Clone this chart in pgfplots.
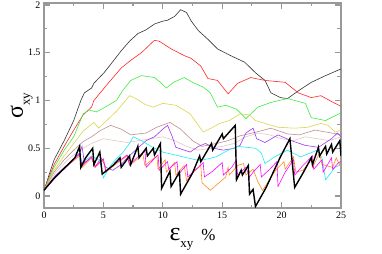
\documentclass[border=0pt]{standalone}
\usepackage{fontspec}
\setmainfont{Liberation Serif}
\usepackage{pgfplots}
\pgfplotsset{compat=1.18}
\definecolor{cdark}{rgb}{0.2,0.2,0.2}
\definecolor{cred}{rgb}{1,0.15,0.15}
\definecolor{cgreen}{rgb}{0.25,0.92,0.25}
\definecolor{cyellow}{rgb}{0.85,0.84,0.3}
\definecolor{ctan}{rgb}{0.74,0.56,0.56}
\definecolor{cpink}{rgb}{0.88,0.78,0.78}
\definecolor{cpurple}{rgb}{0.62,0.22,0.95}
\definecolor{ccyan}{rgb}{0.1,0.92,0.95}
\definecolor{corange}{rgb}{1,0.55,0.1}
\definecolor{cmag}{rgb}{1,0,1}
\definecolor{cframe}{rgb}{0.6,0.6,0.6}
\begin{document}
\begin{tikzpicture}
\useasboundingbox (-44bp,-46bp) rectangle (338bp,208bp);
\begin{axis}[
  scale only axis, width=297bp, height=205bp,
  xmin=0, xmax=25, ymin=-0.125, ymax=2.02,
  xtick={0,5,10,15,20,25}, ytick={0,0.5,1,1.5,2},
  minor x tick num=1, minor y tick num=1,
  tick align=inside, major tick length=6bp, minor tick length=3.5bp,
  axis line style={draw=cframe, line width=1.2bp},
  every tick/.append style={draw=cframe, line width=1.2bp},
  every minor tick/.append style={draw=cframe, line width=1.2bp},
  tick label style={font=\fontsize{10}{12}\selectfont},
  /pgf/number format/assume math mode=true,
  every axis x label/.style={at={([yshift=-32bp]axis description cs:0.5,0)}, anchor=base},
  every axis y label/.style={at={([xshift=-21bp]axis description cs:0,0.5)}, anchor=base, rotate=90, inner sep=0pt},
  xlabel={{\fontsize{26}{26}\selectfont ε}{\fontsize{13}{13}\selectfont\raisebox{-7bp}{xy}}\hspace{8bp}{\fontsize{17}{17}\selectfont\%}},
  ylabel={{\fontsize{24}{24}\selectfont σ}{\fontsize{13}{13}\selectfont\raisebox{-7bp}{xy}}},
  every axis plot/.append style={line width=0.6bp, mark=none},
]
% dark thin
\addplot[cdark] coordinates {(0,0.06)(0.85,0.38)(1.7,0.58)(2.5,0.79)(3.1,1.0)(3.4,1.08)(4.0,1.13)(4.2,1.18)(5.05,1.29)(5.5,1.36)(6.5,1.52)(7.2,1.62)(7.9,1.70)(8.6,1.74)(9.3,1.80)(10.0,1.83)(10.4,1.84)(11.0,1.88)(11.5,1.95)(12.0,1.92)(12.4,1.83)(13.0,1.73)(13.8,1.64)(14.6,1.54)(15.7,1.47)(16.9,1.40)(17.8,1.29)(18.6,1.21)(19.1,1.08)(19.9,1.03)(20.5,1.02)(21.4,1.10)(22.5,1.19)(23.7,1.26)(25,1.33)};
% red
\addplot[cred] coordinates {(0,0.06)(0.85,0.33)(1.7,0.52)(2.5,0.69)(3.3,0.85)(4.0,0.93)(4.2,1.0)(5.4,1.18)(6.5,1.34)(7.3,1.42)(8.2,1.50)(9.3,1.63)(9.7,1.62)(10.7,1.54)(11.8,1.47)(12.4,1.44)(13.2,1.36)(13.8,1.23)(14.6,1.21)(15.5,1.07)(16.3,1.18)(17.4,1.24)(18.6,1.21)(20.3,1.19)(20.8,1.14)(21.4,1.08)(22.5,1.03)(23.3,1.05)(24.5,0.97)(25,0.94)};
% green
\addplot[cgreen] coordinates {(0,0.06)(0.85,0.3)(1.7,0.48)(2.5,0.62)(3.3,0.86)(3.8,0.90)(4.4,0.88)(5.0,0.92)(6.1,1.0)(6.6,1.1)(7.3,1.21)(8.2,1.26)(9.3,1.24)(9.8,1.19)(10.3,1.13)(10.9,1.19)(11.8,1.24)(12.5,1.19)(13.4,1.14)(14.0,1.08)(14.6,0.93)(15.3,0.95)(16.2,0.91)(17.0,0.81)(18.0,0.93)(19.1,0.98)(20.5,1.02)(22.0,0.97)(22.5,0.82)(23.7,0.79)(24.5,0.84)(25,0.87)};
% yellow
\addplot[cyellow] coordinates {(0,0.06)(0.85,0.27)(1.7,0.42)(2.5,0.55)(3.3,0.68)(4.2,0.77)(4.6,0.71)(5.2,0.78)(6.2,0.90)(7.2,1.05)(7.6,1.03)(8.5,0.96)(9.2,0.93)(10.0,0.97)(11.1,0.95)(12.3,0.86)(13.4,0.67)(14.2,0.72)(14.8,0.76)(15.6,0.79)(16.5,0.86)(17.3,0.85)(17.8,0.79)(18.6,0.76)(19.7,0.72)(21.1,0.71)(22.2,0.72)(23.3,0.76)(23.9,0.74)(24.5,0.67)(25,0.69)};
% tan
\addplot[ctan] coordinates {(0,0.06)(0.85,0.25)(1.7,0.38)(2.5,0.48)(3.3,0.57)(4.0,0.62)(4.8,0.69)(5.6,0.74)(6.5,0.70)(7.3,0.64)(8.6,0.66)(9.5,0.72)(10.6,0.77)(11.5,0.70)(12.5,0.58)(13.3,0.52)(14.5,0.55)(15.5,0.58)(16.5,0.63)(17.2,0.65)(18.2,0.68)(19.1,0.71)(20.5,0.65)(21.5,0.64)(22.8,0.69)(24.2,0.66)(25,0.64)};
% faint pink
\addplot[cpink] coordinates {(0,0.06)(1,0.25)(2,0.38)(3,0.48)(4,0.55)(5,0.60)(6,0.58)(7,0.56)(8,0.58)(9,0.60)(10,0.62)(11,0.58)(12,0.52)(13,0.48)(14,0.50)(15,0.52)(16,0.55)(17,0.62)(18,0.66)(19,0.64)(20,0.60)(21,0.58)(22,0.62)(23,0.60)(24,0.58)(25,0.62)};
% purple
\addplot[cpurple] coordinates {(0,0.06)(1,0.22)(2,0.33)(3,0.45)(3.2,0.52)(3.4,0.35)(4.0,0.40)(4.3,0.30)(4.8,0.40)(5.2,0.30)(5.8,0.27)(6.5,0.33)(7.0,0.40)(7.7,0.48)(8.6,0.58)(9.3,0.62)(10.0,0.70)(10.4,0.74)(10.8,0.62)(11.1,0.51)(12.3,0.46)(13.0,0.52)(13.6,0.55)(14.3,0.50)(15.1,0.48)(16.0,0.50)(16.5,0.53)(17.0,0.66)(17.6,0.71)(17.9,0.60)(18.6,0.56)(19.7,0.64)(20.8,0.58)(22,0.53)(23.1,0.51)(24.2,0.60)(24.7,0.66)(25,0.62)};
% cyan
\addplot[ccyan] coordinates {(0,0.06)(1,0.2)(2,0.32)(3,0.45)(3.2,0.35)(4,0.42)(4.7,0.37)(5.0,0.19)(5.5,0.30)(6.0,0.38)(6.6,0.45)(7.2,0.55)(7.5,0.62)(8.2,0.58)(9.0,0.52)(10,0.46)(11.7,0.41)(13.1,0.37)(14.5,0.41)(15.5,0.48)(16.3,0.52)(17.8,0.50)(18.3,0.45)(18.6,0.34)(19.4,0.41)(20.5,0.48)(21.6,0.41)(23,0.48)(23.4,0.40)(23.7,0.17)(24.5,0.30)(25,0.33)};
% orange
\addplot[corange] coordinates {(0,0.06)(1,0.2)(2,0.32)(3,0.42)(3.2,0.3)(4,0.40)(4.3,0.30)(5,0.38)(5.2,0.25)(6,0.33)(7,0.42)(7.2,0.32)(8,0.40)(8.3,0.45)(8.5,0.32)(9.5,0.42)(9.6,0.28)(10.2,0.38)(10.3,0.25)(11,0.35)(11.1,0.22)(11.8,0.32)(12.0,0.16)(12.5,0.24)(13.2,0.32)(13.3,0.14)(14.0,0.06)(15.3,0.20)(15.5,0.30)(15.6,0.22)(16.3,0.32)(16.8,0.34)(17.0,0.22)(17.6,0.28)(18.0,0.15)(18.4,0.06)(19.5,0.27)(20.2,0.36)(20.3,0.28)(21,0.41)(21.2,0.25)(21.8,0.27)(22.5,0.38)(22.6,0.30)(23.2,0.45)(23.4,0.33)(24.3,0.30)(24.6,0.40)(25,0.30)};
% magenta
\addplot[cmag] coordinates {(0,0.06)(1,0.2)(2,0.32)(3,0.44)(3.2,0.32)(4,0.41)(4.3,0.31)(5,0.39)(5.2,0.26)(6,0.34)(7,0.43)(7.2,0.33)(8,0.42)(8.5,0.47)(8.6,0.30)(9.2,0.38)(9.6,0.43)(9.7,0.27)(10.4,0.36)(10.5,0.28)(11.2,0.36)(11.3,0.22)(12,0.33)(12.1,0.20)(12.8,0.28)(13.4,0.35)(13.5,0.20)(14.2,0.26)(15,0.35)(15.1,0.22)(15.8,0.30)(16.2,0.38)(16.3,0.22)(17,0.30)(17.3,0.20)(17.6,0.25)(18.2,0.33)(18.3,0.20)(19,0.28)(19.6,0.36)(19.7,0.10)(20.3,0.25)(21,0.38)(21.1,0.22)(21.8,0.32)(22.6,0.42)(22.7,0.28)(23.4,0.38)(23.5,0.25)(24.2,0.40)(24.3,0.28)(24.8,0.35)(25,0.36)};
% thick black sawtooth
\addplot[black, line width=1.4bp] coordinates {(0,0.06)(0.8,0.18)(1.6,0.28)(2.2,0.35)(2.6,0.40)(3.0,0.52)(3.1,0.30)(3.5,0.40)(4.1,0.50)(4.2,0.33)(4.7,0.46)(4.9,0.23)(5.8,0.32)(6.4,0.40)(6.5,0.30)(7.2,0.42)(7.3,0.33)(7.9,0.52)(8.0,0.40)(8.6,0.50)(8.7,0.42)(9.2,0.50)(9.3,0.43)(9.8,0.55)(9.9,0.08)(10.6,0.26)(10.7,0.10)(11.4,0.25)(11.5,0.02)(12.5,0.24)(13.1,0.42)(13.2,0.36)(14.1,0.55)(14.2,0.48)(15.0,0.65)(15.1,0.60)(16.1,0.74)(16.2,0.17)(16.6,0.27)(16.7,0.22)(17.2,0.32)(17.3,0.02)(17.6,0.07)(17.8,-0.11)(18.7,0.09)(19.9,0.41)(20.7,0.60)(21.1,0.09)(21.8,0.24)(22.5,0.40)(22.6,0.33)(23.1,0.51)(23.2,0.42)(23.7,0.52)(23.8,0.44)(24.2,0.54)(24.3,0.46)(24.9,0.58)(25,0.42)};
\end{axis}
\end{tikzpicture}
\end{document}
